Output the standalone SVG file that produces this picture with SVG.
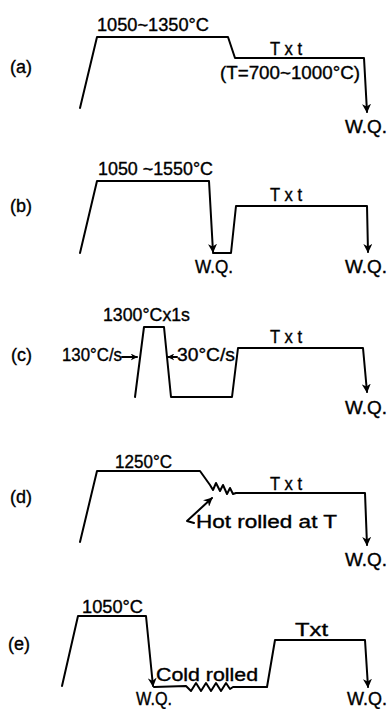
<svg xmlns="http://www.w3.org/2000/svg" width="389" height="709" viewBox="0 0 389 709">
<style>
.ln{fill:none;stroke:#000;stroke-width:2;stroke-linejoin:round;stroke-linecap:round}
.t{font-family:"Liberation Sans",Arial,sans-serif;font-size:17.5px;fill:#000;stroke:#000;stroke-width:0.35}
.lb{font-family:"Liberation Sans",Arial,sans-serif;font-size:18px;fill:#000;stroke:#000;stroke-width:0.35}
</style>
<defs>
<marker id="ah" viewBox="0 0 10 10" refX="9" refY="5" markerWidth="9" markerHeight="9" markerUnits="userSpaceOnUse" orient="auto">
<path d="M0,0 L10,5 L0,10 L3,5 z" fill="#000"/>
</marker>
<marker id="ahs" viewBox="0 0 10 10" refX="9" refY="5" markerWidth="7" markerHeight="7" markerUnits="userSpaceOnUse" orient="auto">
<path d="M0,0 L10,5 L0,10 L3,5 z" fill="#000"/>
</marker>
</defs>

<g id="panel-a">
<text class="lb" x="10" y="73">(a)</text>
<text class="t" x="97" y="31" textLength="112" lengthAdjust="spacingAndGlyphs">1050~1350°C</text>
<text class="t" x="270" y="55" textLength="32" lengthAdjust="spacingAndGlyphs">T x t</text>
<text class="t" x="220" y="79" textLength="140" lengthAdjust="spacingAndGlyphs">(T=700~1000°C)</text>
<text class="t" x="345" y="133" textLength="42" lengthAdjust="spacingAndGlyphs">W.Q.</text>
</g>

<g id="panel-b">
<text class="lb" x="10" y="212">(b)</text>
<text class="t" x="98" y="175" textLength="115" lengthAdjust="spacingAndGlyphs">1050 ~1550°C</text>
<text class="t" x="270" y="201" textLength="32" lengthAdjust="spacingAndGlyphs">T x t</text>
<text class="t" x="195" y="273" textLength="38" lengthAdjust="spacingAndGlyphs">W.Q.</text>
<text class="t" x="345" y="273" textLength="42" lengthAdjust="spacingAndGlyphs">W.Q.</text>
</g>

<g id="panel-c">
<text class="lb" x="11" y="361">(c)</text>
<text class="t" x="103" y="321" textLength="87" lengthAdjust="spacingAndGlyphs">1300°Cx1s</text>
<text class="t" x="62" y="361" textLength="60" lengthAdjust="spacingAndGlyphs">130°C/s</text>
<text class="t" x="177" y="361" textLength="58" lengthAdjust="spacingAndGlyphs">30°C/s</text>
<text class="t" x="270" y="343" textLength="32" lengthAdjust="spacingAndGlyphs">T x t</text>
<text class="t" x="345" y="414" textLength="42" lengthAdjust="spacingAndGlyphs">W.Q.</text>
</g>

<g id="panel-d">
<text class="lb" x="10" y="503">(d)</text>
<text class="t" x="115" y="468" textLength="57" lengthAdjust="spacingAndGlyphs">1250°C</text>
<text class="t" x="270" y="490" textLength="32" lengthAdjust="spacingAndGlyphs">T x t</text>
<text class="t" x="196" y="528" textLength="141" lengthAdjust="spacingAndGlyphs">Hot rolled at  T</text>
<text class="t" x="345" y="566" textLength="42" lengthAdjust="spacingAndGlyphs">W.Q.</text>
</g>

<g id="panel-e">
<text class="lb" x="8" y="650">(e)</text>
<text class="t" x="82" y="613" textLength="61" lengthAdjust="spacingAndGlyphs">1050°C</text>
<text class="t" x="295" y="636" textLength="33" lengthAdjust="spacingAndGlyphs">Txt</text>
<text class="t" x="156" y="681" textLength="102" lengthAdjust="spacingAndGlyphs">Cold rolled</text>
<text class="t" x="136" y="705" textLength="36" lengthAdjust="spacingAndGlyphs">W.Q.</text>
<text class="t" x="347" y="705" textLength="40" lengthAdjust="spacingAndGlyphs">W.Q.</text>
</g>

<g id="connectors">
<path class="ln" d="M80,108 L97,37 L228,37 L235,58 L364,58 L367,112" marker-end="url(#ah)"/>

<path class="ln" d="M80,253 L97,181 L209,181 L213,252" marker-end="url(#ah)"/>
<path class="ln" d="M213,253 L231,253 L236,206 L367,206 L368,252" marker-end="url(#ah)"/>

<path class="ln" d="M135,397 L144,327 L164,327 L171,397 L232,397 L238,348 L363,348 L367,392" marker-end="url(#ah)"/>
<path class="ln" d="M122,357 L137,357" marker-end="url(#ahs)"/>
<path class="ln" d="M177,357 L168,357" marker-end="url(#ahs)"/>

<path class="ln" d="M80,542 L97,471 L200,471 L210,485 L213,490 L216,483 L220,491 L223,485 L227,494 L230,488 L233,494 L236,493 L365,493 L367,545" marker-end="url(#ah)"/>
<path class="ln" d="M194,523 L187,521 L212,498" marker-end="url(#ah)"/>

<path class="ln" d="M62,686 L78,616 L146,616 L153,686" marker-end="url(#ah)"/>
<path class="ln" d="M154,687 L186,686 L191,691 L196,683 L201,691 L206,683 L211,691 L216,683 L221,691 L226,683 L230,689 L233,687 L267,687 L275,640 L365,640 L368,687" marker-end="url(#ah)"/>
</g>
</svg>
